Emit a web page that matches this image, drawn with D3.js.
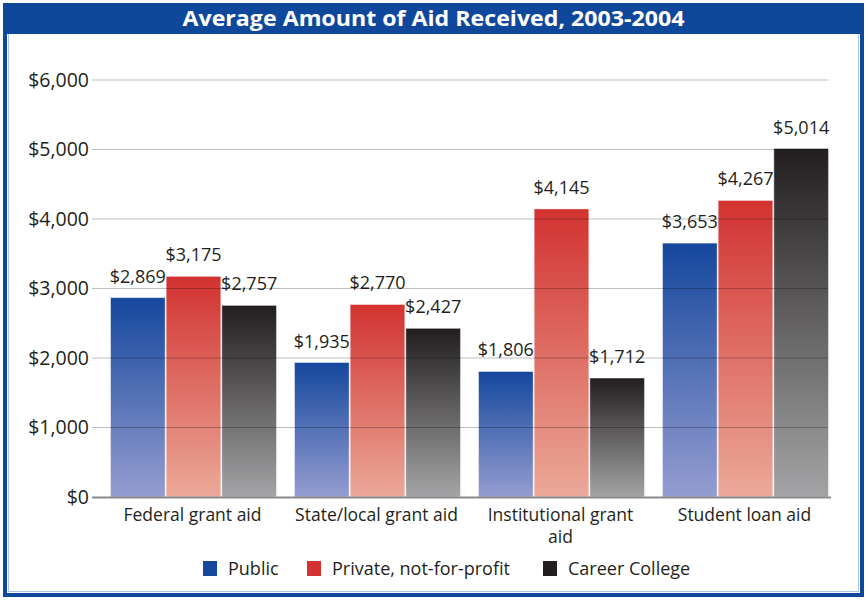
<!DOCTYPE html>
<html>
<head>
<meta charset="utf-8">
<script src="https://cdn.jsdelivr.net/npm/d3@7"></script>
<style>
  html, body { margin: 0; padding: 0; background: #fff; }
  svg { display: block; font-family: "Open Sans", "Noto Sans", sans-serif; }
</style>
</head>
<body>
<svg id="chart" width="867" height="600"></svg>
<script>
// Average aid amounts by aid type and institution sector
const categories = ["Federal grant aid", "State/local grant aid", "Institutional grant aid", "Student loan aid"];
const seriesNames = ["Public", "Private, not-for-profit", "Career College"];
const publicValues = [2869, 1935, 1806, 3653];
const privateValues = [3175, 2770, 4145, 4267];
const careerValues = [2757, 2427, 1712, 5014];
const yTicks = [0, 1000, 2000, 3000, 4000, 5000, 6000];

const seriesValues = [publicValues, privateValues, careerValues];
const gradientStops = [
  ["#15479d", "#959dd0"],
  ["#d23230", "#eba999"],
  ["#221e1f", "#a4a4a6"]
];
const legendColors = ["#15479d", "#d23230", "#221e1f"];

const W = 867, H = 600;
const svg = d3.select("#chart");
const textColor = "#231f20";

// frame and title bar
svg.append("rect").attr("x", 5).attr("y", 5).attr("width", W - 10).attr("height", H - 10)
  .attr("fill", "#fff").attr("stroke", "#0f489b").attr("stroke-width", 4);
svg.append("rect").attr("x", 8.5).attr("y", 33.5).attr("width", W - 17).attr("height", H - 42)
  .attr("fill", "none").attr("stroke", "#a9c3e6").attr("stroke-width", 1);
svg.append("rect").attr("x", 3).attr("y", 3).attr("width", W - 6).attr("height", 31)
  .attr("fill", "#0f489b");
svg.append("text").attr("x", W / 2).attr("y", 26).attr("text-anchor", "middle")
  .attr("fill", "#fff").attr("font-size", 21).attr("font-weight", 700)
  .attr("textLength", 502).attr("lengthAdjust", "spacingAndGlyphs")
  .text("Average Amount of Aid Received, 2003-2004");

// scales
const y = d3.scaleLinear().domain([0, 6000]).range([497, 80]);
const x0 = d3.scaleBand().domain(categories).range([101.5, 837.5]).paddingInner(0.0924).paddingOuter(0.0462);
const x1 = d3.scaleBand().domain(seriesNames).range([0, x0.bandwidth()]).padding(0);

// gradients
const defs = svg.append("defs");
gradientStops.forEach((s, i) => {
  const g = defs.append("linearGradient").attr("id", "grad" + i)
    .attr("x1", 0).attr("y1", 0).attr("x2", 0).attr("y2", 1);
  g.append("stop").attr("offset", "0%").attr("stop-color", s[0]);
  g.append("stop").attr("offset", "100%").attr("stop-color", s[1]);
});

// y axis labels
const yAxis = d3.axisLeft(y).tickValues(yTicks).tickSize(0).tickPadding(0)
  .tickFormat(d => "$" + d3.format(",")(d));
const yG = svg.append("g").attr("transform", "translate(89,0)").call(yAxis);
yG.select(".domain").remove();
yG.selectAll("text").attr("font-size", 19.5).attr("fill", textColor)
  .attr("font-family", "'Open Sans', 'Noto Sans', sans-serif");

// bars
const groups = svg.append("g").selectAll("g").data(categories).join("g")
  .attr("transform", d => `translate(${x0(d)},0)`);
groups.selectAll("rect").data((c, ci) => seriesNames.map((s, si) => ({ s, si, v: seriesValues[si][ci] })))
  .join("rect")
  .attr("x", d => x1(d.s) + 0.5)
  .attr("width", x1.bandwidth() - 1)
  .attr("y", d => y(d.v))
  .attr("height", d => y(0) - y(d.v))
  .attr("fill", d => `url(#grad${d.si})`)
  .attr("stroke", "rgba(255,255,255,0.45)")
  .attr("stroke-width", 1);

// gridlines drawn over the bars
svg.append("g").selectAll("line").data(yTicks.filter(t => t > 0)).join("line")
  .attr("x1", 92).attr("x2", 828)
  .attr("y1", d => y(d)).attr("y2", d => y(d))
  .attr("stroke", "rgba(0,0,0,0.26)").attr("stroke-width", 1.2);
svg.append("line").attr("x1", 92).attr("x2", 831).attr("y1", y(0) + 0.5).attr("y2", y(0) + 0.5)
  .attr("stroke", "#8a8a8a").attr("stroke-width", 2);

// value labels
groups.selectAll("text.val").data((c, ci) => seriesNames.map((s, si) => ({ s, v: seriesValues[si][ci] })))
  .join("text").attr("class", "val")
  .attr("x", d => x1(d.s) + x1.bandwidth() / 2)
  .attr("y", d => y(d.v) - 15)
  .attr("text-anchor", "middle").attr("font-size", 18).attr("fill", textColor)
  .text(d => "$" + d3.format(",")(d.v));

// category labels, wrapped to the band step
const catG = svg.append("g");
categories.forEach(c => {
  const t = catG.append("text").attr("x", x0(c) + x0.bandwidth() / 2 - 1).attr("y", 521)
    .attr("text-anchor", "middle").attr("font-size", 17.5).attr("fill", textColor);
  const words = c.split(" ");
  let line = [];
  let ts = t.append("tspan").attr("x", t.attr("x")).attr("dy", 0);
  words.forEach(w => {
    line.push(w);
    ts.text(line.join(" "));
    if (ts.node().getComputedTextLength() > x0.step() - 16 && line.length > 1) {
      line.pop();
      ts.text(line.join(" "));
      line = [w];
      ts = t.append("tspan").attr("x", t.attr("x")).attr("dy", 22).text(w);
    }
  });
});

// legend
const legendX = [203, 307, 543];
const lg = svg.append("g");
seriesNames.forEach((s, i) => {
  lg.append("rect").attr("x", legendX[i]).attr("y", 561).attr("width", 14).attr("height", 15)
    .attr("fill", legendColors[i]);
  lg.append("text").attr("x", legendX[i] + 25).attr("y", 575).attr("font-size", 18)
    .attr("fill", textColor).text(s);
});
</script>
</body>
</html>
